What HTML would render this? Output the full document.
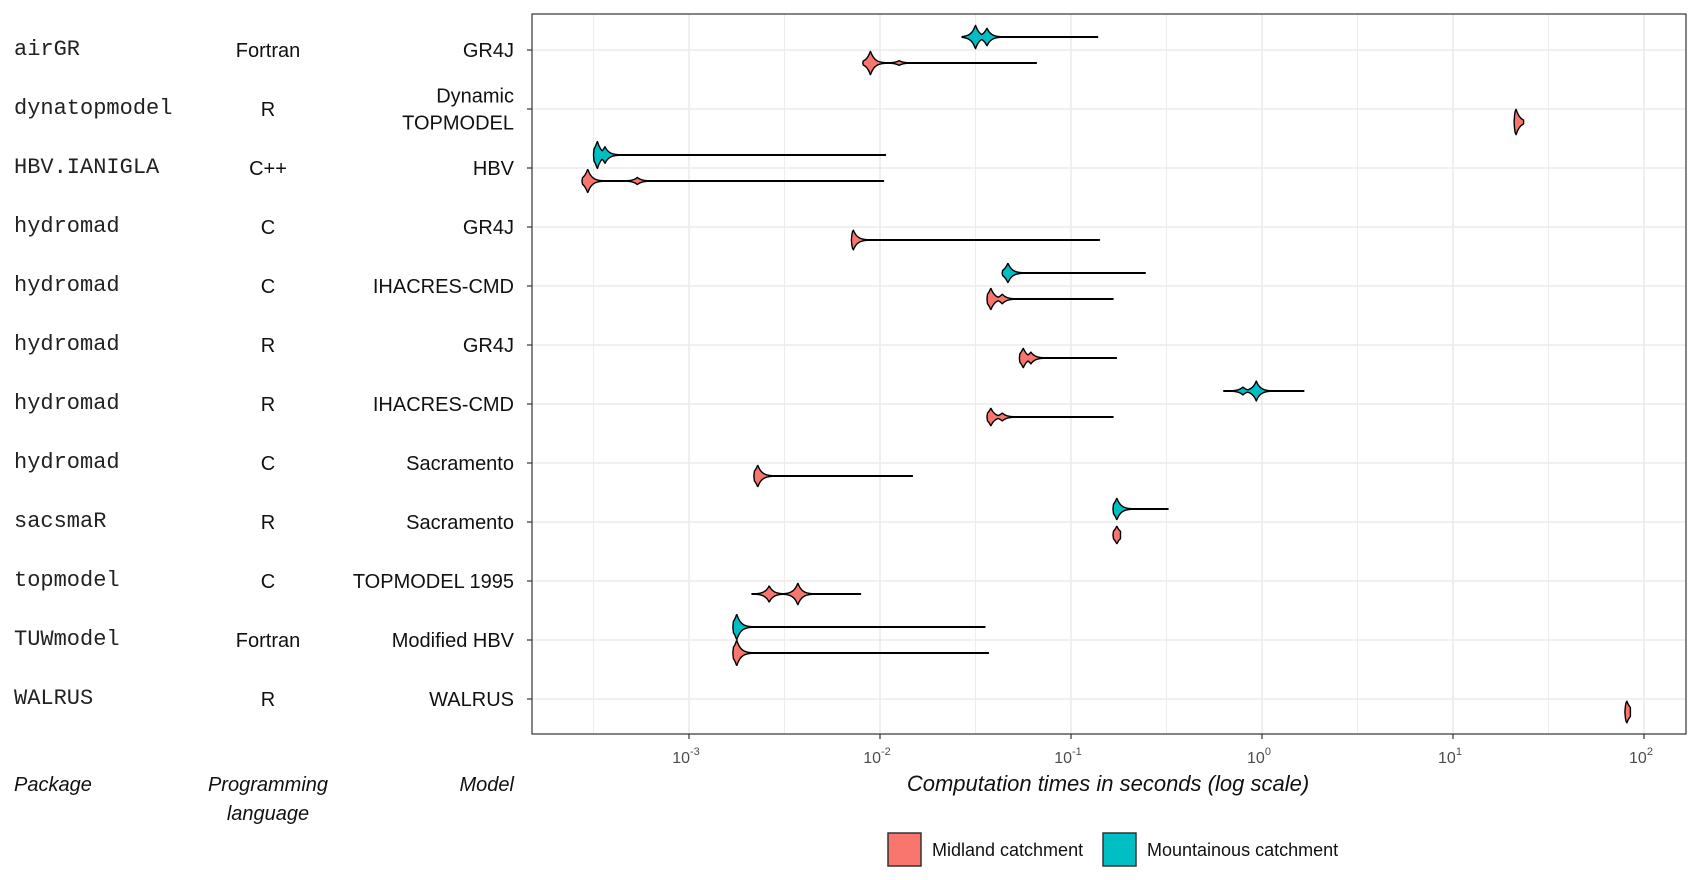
<!DOCTYPE html>
<html><head><meta charset="utf-8">
<style>
body{margin:0;background:#fff;width:1700px;height:880px;overflow:hidden;font-family:"Liberation Sans Narrow","Liberation Sans",sans-serif;}
svg{display:block}
.mono{font-family:"Liberation Mono",monospace;font-size:22px;fill:#222}
.lab{font-family:"Liberation Sans Narrow","Liberation Sans",sans-serif;font-size:20px;fill:#111}
.tick{font-family:"Liberation Sans Narrow","Liberation Sans",sans-serif;font-size:16px;fill:#4d4d4d}
.it{font-style:italic}
</style></head><body>
<svg id="chart" width="1700" height="880"></svg>
<script>
const packages=["airGR","dynatopmodel","HBV.IANIGLA","hydromad","hydromad","hydromad","hydromad","hydromad","sacsmaR","topmodel","TUWmodel","WALRUS"];
const languages=["Fortran","R","C++","C","C","R","R","C","R","C","Fortran","R"];
const models=[["GR4J"],["Dynamic","TOPMODEL"],["HBV"],["GR4J"],["IHACRES-CMD"],["GR4J"],["IHACRES-CMD"],["Sacramento"],["Sacramento"],["TOPMODEL 1995"],["Modified HBV"],["WALRUS"]];
// log10 seconds; null = absent
const midMode=[-2.05,1.33,-3.53,-2.14,-1.42,-1.25,-1.42,-2.64,-0.76,-2.43,-2.75,1.91];
const midMode2=[-1.90,null,-3.27,null,-1.36,-1.21,-1.36,null,null,-2.58,null,null];
const midAmp2=[0.2,0,0.3,0,0.45,0.6,0.45,0,0,0.75,0,0];
const midMin=[-2.09,1.32,-3.56,-2.15,-1.44,-1.27,-1.44,-2.66,-0.78,-2.67,-2.77,1.90];
const midMax=[-1.18,1.37,-1.98,-0.85,-0.78,-0.76,-0.78,-1.83,-0.74,-2.10,-1.43,1.93];
const midH=[12,13,12,10,11,10,9,11,9,11,13,11];
const mntMode=[-1.50,null,-3.48,null,-1.33,null,-0.03,null,-0.76,null,-2.75,null];
const mntMode2=[-1.44,null,-3.44,null,null,null,-0.10,null,null,null,null,null];
const mntAmp2=[0.75,0,0.6,0,0,0,0.4,0,0,0,0,0];
const mntMin=[-1.57,null,-3.50,null,-1.36,null,-0.20,null,-0.78,null,-2.77,null];
const mntMax=[-0.86,null,-1.97,null,-0.61,null,0.22,null,-0.49,null,-1.45,null];
const mntH=[12,null,14,null,10,null,10,null,11,null,13,null];
const xTicks=[-3,-2,-1,0,1,2];

const svg=document.getElementById('chart');
const NS='http://www.w3.org/2000/svg';
const L=532,R=1686,T=14,B=734;
const xs=v=>880+(v+2)*191;
const ys=i=>50+i*59;
function mk(tag,attrs,parent){const e=document.createElementNS(NS,tag);for(const k in attrs)e.setAttribute(k,attrs[k]);(parent||svg).appendChild(e);return e;}

const grid=mk('g',{});


for(let v=-3.5;v<=2.01;v+=0.5){const x=xs(v);if(x<L||x>R)continue;
 const ln=mk('line',{x1:x,x2:x,y1:T,y2:B,stroke:'#ebebeb','stroke-width':Number.isInteger(v)?1.6:0.9},grid);
 
 }
packages.forEach((p,i)=>{const ln=mk('line',{x1:L,x2:R,y1:ys(i),y2:ys(i),stroke:'#ebebeb','stroke-width':1.6},grid);
 
 });

function violin(mode,mode2,amp2,mn,mx,H,yc,fill,name){
 const s=4, pts=[];
 const x0=xs(mn),x1=xs(mx),m1=xs(mode),m2=mode2==null?null:xs(mode2);
 for(let x=x0;x<=x1;x+=0.5){
  let h=H*Math.exp(-Math.abs(x-m1)/s);
  if(m2!=null)h=Math.max(h,H*amp2*Math.exp(-Math.abs(x-m2)/s));
  h=Math.max(h,0.3);
  if(x-x0<1.5)h=Math.min(h,0.3+(x-x0)*H);
  pts.push([x,h]);}
 let d='M'+pts.map(p=>p[0].toFixed(1)+','+(yc-p[1]).toFixed(1)).join('L');
 d+='L'+pts.slice().reverse().map(p=>p[0].toFixed(1)+','+(yc+p[1]).toFixed(1)).join('L')+'Z';
 const e=mk('path',{d:d,fill:fill,stroke:'#000','stroke-width':1.4,'stroke-linejoin':'round'});
 
 
}
packages.forEach((p,i)=>{
 const yc=ys(i);
 if(mntMode[i]!=null)violin(mntMode[i],mntMode2[i],mntAmp2[i],mntMin[i],mntMax[i],mntH[i],yc-13,'#00BFC4','violin-mountainous');
 if(midMode[i]!=null)violin(midMode[i],midMode2[i],midAmp2[i],midMin[i],midMax[i],midH[i],yc+13,'#F8766D','violin-midland');
});

const border=mk('rect',{x:L,y:T,width:R-L,height:B-T,fill:'none',stroke:'#333','stroke-width':1.2});



packages.forEach((p,i)=>{const y=ys(i);
 const tk=mk('line',{x1:L-5,x2:L,y1:y,y2:y,stroke:'#333','stroke-width':1.2});
 
 
 const t1=mk('text',{x:14,y:y+5,class:'mono'});t1.textContent=p;
 
 
 const t2=mk('text',{x:268,y:y+7,class:'lab','text-anchor':'middle'});t2.textContent=languages[i];
 
 
 const m=models[i];
 m.forEach((s,k)=>{const t3=mk('text',{x:514,y:y+7+(k-(m.length-1)/2)*27,class:'lab','text-anchor':'end'});t3.textContent=s;
  
  });
});
xTicks.forEach(v=>{const x=xs(v);
 const tk=mk('line',{x1:x,x2:x,y1:B,y2:B+5,stroke:'#333','stroke-width':1.2});
 
 
 const t=mk('text',{x:x-3,y:B+29,class:'tick','text-anchor':'middle'});
 
 
 t.innerHTML='10<tspan dy="-8" font-size="11">'+v+'</tspan>';
});
function txt(x,y,s,cls,anchor,name){const t=mk('text',{x:x,y:y,class:cls,'text-anchor':anchor});t.textContent=s;
 
 return t;}
txt(14,791,'Package','lab it','start','package-header');
txt(268,791,'Programming','lab it','middle','language-header');
txt(268,820,'language','lab it','middle','language-header-line2');
txt(514,791,'Model','lab it','end','model-header');
txt(1108,791,'Computation times in seconds (log scale)','lab it','middle','x-axis-title').style.fontSize='22px';
const lg=mk('g',{});


const k1=mk('rect',{x:888,y:833,width:33,height:33,fill:'#F8766D',stroke:'#333','stroke-width':1.5},lg);


const k2=mk('rect',{x:1103,y:833,width:33,height:33,fill:'#00BFC4',stroke:'#333','stroke-width':1.5},lg);


txt(932,856,'Midland catchment','lab','start','legend-label-midland').style.fontSize='18px';
txt(1147,856,'Mountainous catchment','lab','start','legend-label-mountainous').style.fontSize='18px';
</script>
</body></html>
